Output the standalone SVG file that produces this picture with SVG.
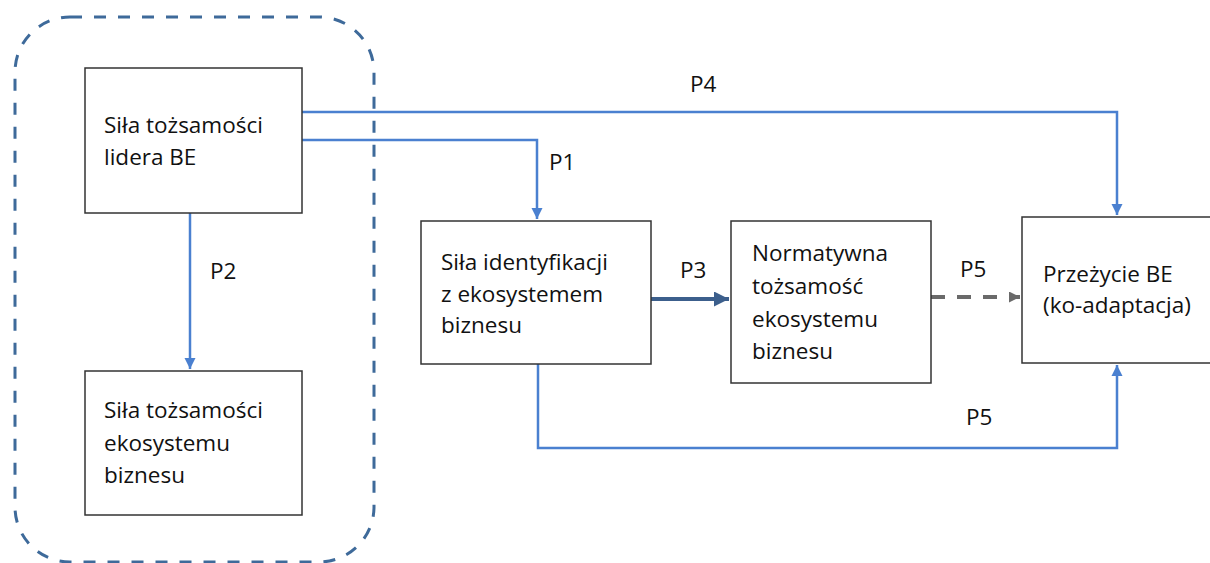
<svg xmlns="http://www.w3.org/2000/svg" width="1210" height="563" viewBox="0 0 1210 563">
<style>
.box{fill:#fff;stroke:#333;stroke-width:1.5}
.t{font-family:"Open Sans","Noto Sans",sans-serif;font-size:22.5px;fill:#111}
.c{fill:none;stroke:#4a80d0;stroke-width:2.5}
</style>
<defs>
<marker id="a" viewBox="0 0 10 10" refX="10" refY="5" markerWidth="11" markerHeight="12" markerUnits="userSpaceOnUse" orient="auto"><path d="M0,0L10,5L0,10z" fill="#4a80d0"/></marker>
<marker id="ad" viewBox="0 0 10 10" refX="10" refY="5" markerWidth="15" markerHeight="15" markerUnits="userSpaceOnUse" orient="auto"><path d="M0,0L10,5L0,10z" fill="#3c5f8c"/></marker>
<marker id="ag" viewBox="0 0 10 10" refX="10" refY="5" markerWidth="11" markerHeight="11" markerUnits="userSpaceOnUse" orient="auto"><path d="M0,0L10,5L0,10z" fill="#6a6a6a"/></marker>
</defs>
<rect x="15" y="17" width="359" height="545" rx="55" fill="none" stroke="#3e6a9a" stroke-width="3" stroke-dasharray="12 12"/>
<g id="connectors">
<path class="c" d="M302,112H1117V215" marker-end="url(#a)"/>
<path class="c" d="M302,140H537V219" marker-end="url(#a)"/>
<path class="c" d="M190,213V369" marker-end="url(#a)"/>
<path d="M651,299H729" fill="none" stroke="#3c5f8c" stroke-width="4" marker-end="url(#ad)"/>
<path d="M931,297H1020" fill="none" stroke="#6a6a6a" stroke-width="4" stroke-dasharray="14 12" marker-end="url(#ag)"/>
<path class="c" d="M538,364V448H1117V365" marker-end="url(#a)"/>
<text class="t" x="690" y="92">P4</text>
<text class="t" x="549" y="170">P1</text>
<text class="t" x="210" y="279">P2</text>
<text class="t" x="680" y="278">P3</text>
<text class="t" x="960" y="277">P5</text>
<text class="t" x="966" y="425">P5</text>
</g>
<g id="n1"><rect class="box" x="85" y="68" width="217" height="145"/>
<text class="t" x="104" y="133">Siła tożsamości</text><text class="t" x="104" y="165">lidera BE</text></g>
<g id="n2"><rect class="box" x="85" y="371" width="217" height="144"/>
<text class="t" x="104" y="418">Siła tożsamości</text><text class="t" x="104" y="451">ekosystemu</text><text class="t" x="104" y="483">biznesu</text></g>
<g id="n3"><rect class="box" x="421" y="221" width="230" height="143"/>
<text class="t" x="441" y="270">Siła identyfikacji</text><text class="t" x="441" y="302">z ekosystemem</text><text class="t" x="441" y="333">biznesu</text></g>
<g id="n4"><rect class="box" x="731" y="221" width="200" height="162"/>
<text class="t" x="752" y="261">Normatywna</text><text class="t" x="752" y="294">tożsamość</text><text class="t" x="752" y="327">ekosystemu</text><text class="t" x="752" y="359">biznesu</text></g>
<g id="n5"><rect class="box" x="1022" y="217" width="200" height="146"/>
<text class="t" x="1043" y="282">Przeżycie BE</text><text class="t" x="1043" y="313">(ko-adaptacja)</text></g>
</svg>
